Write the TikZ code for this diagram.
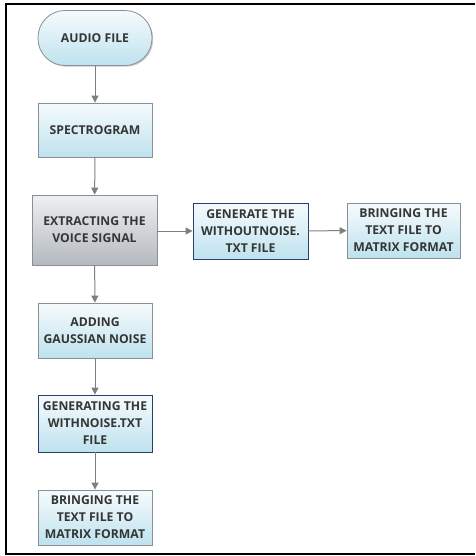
\documentclass[tikz,border=0pt]{standalone}
\usepackage{fontspec}
\setmainfont{Open Sans}
\usetikzlibrary{arrows.meta,shadows}
\definecolor{txt}{HTML}{353535}
\definecolor{arr}{HTML}{7F7F7F}
\definecolor{bluetop}{HTML}{F6FBFD}
\definecolor{bluebot}{HTML}{BEE2EE}
\definecolor{greytop}{HTML}{EEF0F2}
\definecolor{greybot}{HTML}{B4B9BF}
\definecolor{edgegrey}{HTML}{8A8F96}
\definecolor{navy}{HTML}{2A3F70}
\begin{document}
\begin{tikzpicture}[x=1pt,y=-1pt,
  base/.style={draw=edgegrey, line width=0.8pt, align=center, text=txt,
    font=\fontsize{12.2}{17}\selectfont\bfseries, inner sep=0pt,
    top color=bluetop, bottom color=bluebot,
    drop shadow={shadow xshift=1.2pt, shadow yshift=-1.2pt, opacity=0.35, fill=black!60}},
  bluebox/.style={base, rectangle},
  navybox/.style={base, rectangle, draw=navy},
  greybox/.style={base, rectangle, top color=greytop, bottom color=greybot},
  term/.style={base, rectangle, rounded corners=27pt},
  conn/.style={arr, line width=1pt, -{Triangle[width=7pt,length=7pt]}}
]
\useasboundingbox (0,0) rectangle (475,556);
\draw[line width=1.6pt] (475,4) -- (6,4) -- (6,554) -- (475,554);

\node[term, minimum width=114pt, minimum height=55pt] (audio) at (95,38) {AUDIO FILE};
\node[bluebox, minimum width=114pt, minimum height=54pt] (spec) at (95,130) {SPECTROGRAM};
\node[greybox, minimum width=125pt, minimum height=70pt] (extract) at (94.5,230) {EXTRACTING THE\\VOICE SIGNAL};
\node[navybox, minimum width=115pt, minimum height=56pt] (gen1) at (250.5,231) {GENERATE THE\\WITHOUTNOISE.\\TXT FILE};
\node[bluebox, minimum width=113pt, minimum height=55pt] (bring1) at (403.5,230.5) {BRINGING THE\\TEXT FILE TO\\MATRIX FORMAT};
\node[bluebox, minimum width=114pt, minimum height=55pt] (add) at (95,330.5) {ADDING\\GAUSSIAN NOISE};
\node[navybox, minimum width=114pt, minimum height=57pt] (gen2) at (95,423.5) {GENERATING THE\\WITHNOISE.TXT\\FILE};
\node[bluebox, minimum width=114pt, minimum height=55pt] (bring2) at (95,517.5) {BRINGING THE\\TEXT FILE TO\\MATRIX FORMAT};

\draw[conn] (audio) -- (spec);
\draw[conn] (spec) -- (extract);
\draw[conn] (extract.east |- gen1) -- (gen1.west);
\draw[conn] (gen1) -- (bring1);
\draw[conn] (extract) -- (add);
\draw[conn] (add) -- (gen2);
\draw[conn] (gen2) -- (bring2);
\end{tikzpicture}
\end{document}
